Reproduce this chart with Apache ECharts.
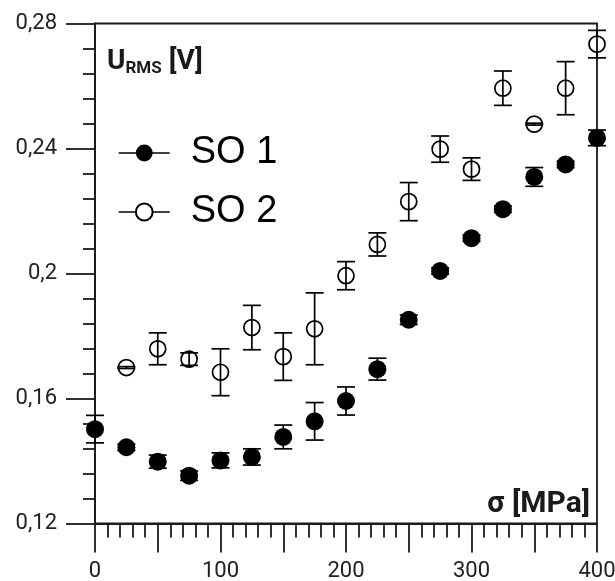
<!DOCTYPE html>
<html>
<head>
<meta charset="utf-8">
<script src="https://cdn.jsdelivr.net/npm/echarts@6/dist/echarts.min.js"></script>
<style>
html,body{margin:0;padding:0;background:#fff;}
#chart{width:615px;height:581px;}
</style>
</head>
<body>
<div id="chart"></div>
<script>
// ---- data ----
const seriesNames = ['SO 1', 'SO 2'];
const so1Stress = [0, 25, 50, 75, 100, 125, 150, 175, 200, 225, 250, 275, 300, 325, 350, 375, 400];
const so1Values = [0.1502, 0.1444, 0.1398, 0.1353, 0.1402, 0.1413, 0.1477, 0.1527, 0.1592, 0.1694, 0.1852, 0.2008, 0.2113, 0.2206, 0.2309, 0.2349, 0.2434];
const so1Errors = [0.0044, 0.0010, 0.0021, 0.0015, 0.0024, 0.0026, 0.0038, 0.0060, 0.0045, 0.0035, 0.0015, 0.0010, 0.0010, 0.0010, 0.0030, 0.0010, 0.0025];
const so2Stress = [25, 50, 75, 100, 125, 150, 175, 200, 225, 250, 275, 300, 325, 350, 375, 400];
const so2Values = [0.1699, 0.1759, 0.1726, 0.1684, 0.1827, 0.1734, 0.1823, 0.1993, 0.2093, 0.2230, 0.2398, 0.2334, 0.2593, 0.2478, 0.2593, 0.2734];
const so2Errors = [0.0003, 0.0051, 0.0020, 0.0075, 0.0071, 0.0076, 0.0115, 0.0045, 0.0037, 0.0061, 0.0042, 0.0036, 0.0055, 0.0003, 0.0085, 0.0044];
const xTickValues = [0, 100, 200, 300, 400];
const xTickLabels = ['0', '100', '200', '300', '400'];
const yTickValues = [0.12, 0.16, 0.20, 0.24, 0.28];
const yTickLabels = ['0,12', '0,16', '0,2', '0,24', '0,28'];
const xAxisTitle = 'σ [MPa]';
const yAxisTitleMain = 'U';
const yAxisTitleSub = 'RMS';
const yAxisTitleUnit = ' [V]';

// ---- build ----
const ink = '#1a1a1a';
function lookup(values, labels, v) {
  const i = values.findIndex(t => Math.abs(t - v) < 1e-6);
  return i >= 0 ? labels[i] : '';
}
function points(xs, ys) { return xs.map((x, i) => [x, ys[i]]); }
function errData(xs, ys, es) { return xs.map((x, i) => [x, ys[i] - es[i], ys[i] + es[i]]); }
function errorBarRender(params, api) {
  const x = api.value(0);
  const lo = api.coord([x, api.value(1)]);
  const hi = api.coord([x, api.value(2)]);
  const hw = 9;
  const st = { stroke: '#000', lineWidth: 1.7 };
  return {
    type: 'group',
    children: [
      { type: 'line', shape: { x1: lo[0], y1: lo[1], x2: hi[0], y2: hi[1] }, style: st },
      { type: 'line', shape: { x1: hi[0] - hw, y1: hi[1], x2: hi[0] + hw, y2: hi[1] }, style: st },
      { type: 'line', shape: { x1: lo[0] - hw, y1: lo[1], x2: lo[0] + hw, y2: lo[1] }, style: st }
    ]
  };
}

const chart = echarts.init(document.getElementById('chart'), null, { renderer: 'canvas' });
const axisLine = { show: true, lineStyle: { color: ink, width: 1.8 } };
chart.setOption({
  animation: false,
  backgroundColor: '#fff',
  grid: {
    left: 95, right: 18, top: 23.5, bottom: 57.5,
    show: true, borderColor: ink, borderWidth: 1.8, backgroundColor: 'transparent',
    containLabel: false, outerBoundsMode: 'none'
  },
  legend: {
    data: seriesNames,
    orient: 'vertical',
    left: 118, top: 133,
    padding: 0,
    itemWidth: 51, itemHeight: 21, itemGap: 19,
    selectedMode: false,
    textStyle: { fontFamily: 'Liberation Sans', fontSize: 38, color: '#000', lineHeight: 40, padding: [0, 0, 0, 16] },
    lineStyle: { color: '#000', width: 1.5, opacity: 1 }
  },
  xAxis: {
    type: 'value', min: 0, max: 400, interval: 50,
    name: xAxisTitle,
    nameLocation: 'end',
    nameGap: -7,
    nameTextStyle: { fontFamily: 'Roboto', fontWeight: 'bold', fontSize: 30, color: ink, align: 'right', verticalAlign: 'bottom', padding: [0, 0, 4, 0] },
    axisLine: axisLine,
    axisTick: { show: true, inside: false, length: 29, lineStyle: { color: ink, width: 1.8 } },
    minorTick: { show: true, splitNumber: 5, length: 14, lineStyle: { color: ink, width: 1.8 } },
    splitLine: { show: false },
    axisLabel: {
      margin: 37, fontFamily: 'Roboto', fontSize: 22, color: '#222',
      formatter: v => lookup(xTickValues, xTickLabels, v)
    }
  },
  yAxis: {
    type: 'value', min: 0.12, max: 0.28, interval: 0.04,
    name: '{u|' + yAxisTitleMain + '}{s|' + yAxisTitleSub + '}{u|' + yAxisTitleUnit + '}',
    nameLocation: 'end',
    nameGap: -22,
    nameTextStyle: {
      align: 'left', verticalAlign: 'top', padding: [0, 0, 0, 12],
      rich: {
        u: { fontFamily: 'Roboto', fontWeight: 'bold', fontSize: 28, color: ink },
        s: { fontFamily: 'Roboto', fontWeight: 'bold', fontSize: 17, color: ink, padding: [15, 0, 0, 0] }
      }
    },
    axisLine: axisLine,
    axisTick: { show: true, inside: false, length: 29, lineStyle: { color: ink, width: 1.8 } },
    minorTick: { show: true, splitNumber: 5, length: 12, lineStyle: { color: ink, width: 1.8 } },
    splitLine: { show: false },
    axisLabel: {
      margin: 38, fontFamily: 'Roboto', fontSize: 22, color: '#222',
      formatter: v => lookup(yTickValues, yTickLabels, v)
    }
  },
  series: [
    {
      name: seriesNames[0], type: 'line', data: points(so1Stress, so1Values),
      symbol: 'circle', symbolSize: 18, showSymbol: true, showAllSymbol: true, clip: false,
      lineStyle: { opacity: 0, width: 0 },
      itemStyle: { color: '#000', borderColor: '#000', borderWidth: 0 },
      z: 2
    },
    {
      name: seriesNames[1], type: 'line', data: points(so2Stress, so2Values),
      symbol: 'circle', symbolSize: 16, showSymbol: true, showAllSymbol: true, clip: false,
      lineStyle: { opacity: 0, width: 0 },
      itemStyle: { color: '#fff', borderColor: '#000', borderWidth: 1.7 },
      z: 2
    },
    {
      name: 'SO 1 error', type: 'custom', renderItem: errorBarRender,
      data: errData(so1Stress, so1Values, so1Errors), z: 3, clip: false,
      encode: { x: 0, y: [1, 2] }
    },
    {
      name: 'SO 2 error', type: 'custom', renderItem: errorBarRender,
      data: errData(so2Stress, so2Values, so2Errors), z: 3, clip: false,
      encode: { x: 0, y: [1, 2] }
    }
  ]
});
</script>
</body>
</html>
